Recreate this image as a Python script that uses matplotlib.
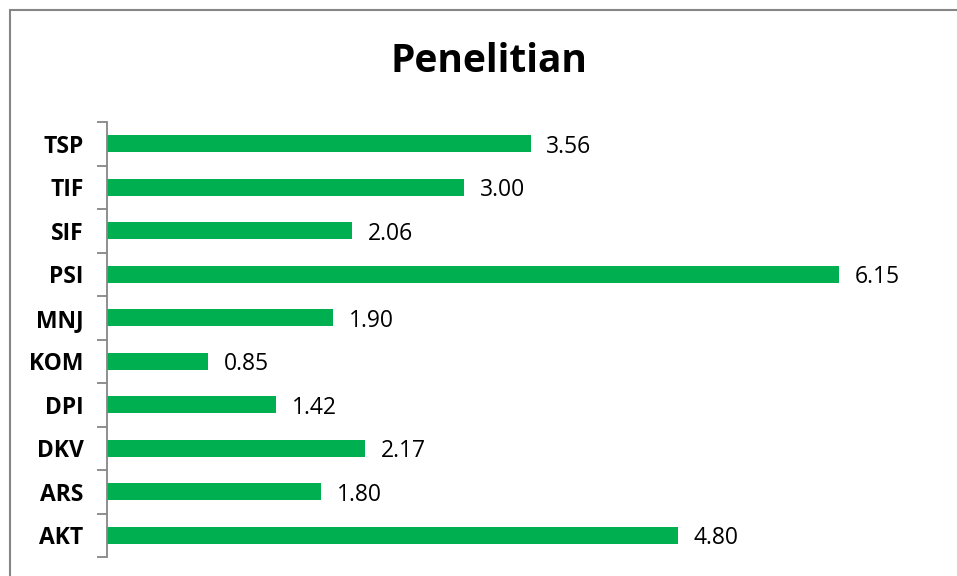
import matplotlib.pyplot as plt
from matplotlib.patches import Rectangle

# data
prodi = ['AKT', 'ARS', 'DKV', 'DPI', 'KOM', 'MNJ', 'PSI', 'SIF', 'TIF', 'TSP']
nilai = [4.80, 1.80, 2.17, 1.42, 0.85, 1.90, 6.15, 2.06, 3.00, 3.56]

plt.rcParams['font.family'] = ['Open Sans', 'DejaVu Sans']

W, H = 957, 576
fig = plt.figure(figsize=(W / 100, H / 100), dpi=100)

# outer chart frame (right/bottom edges fall outside the picture)
fig.patches.append(Rectangle((10 / W, -0.1), 1.2, 1 - 10 / H + 0.1,
                             transform=fig.transFigure, fill=False,
                             edgecolor='#868686', linewidth=1.5))

ax = fig.add_axes([107 / W, 1 - 557 / H, (940 - 107) / W, (557 - 122) / H])

y = range(len(prodi))
ax.barh(y, nilai, height=0.39, color='#00b050')
for yi, v in zip(y, nilai):
    ax.text(v + 0.13, yi - 0.07, f'{v:.2f}', va='center', ha='left', fontsize=16.5)

ax.set_xlim(0, 7)
ax.set_ylim(-0.5, len(prodi) - 0.5)
ax.set_yticks(y)
ax.set_yticklabels(prodi, fontsize=16.5, fontweight='bold')
ax.tick_params(axis='y', length=0, pad=17)
ax.set_yticks([i - 0.5 for i in range(len(prodi) + 1)], minor=True)
ax.tick_params(axis='y', which='minor', length=7, color='#868686', width=1.3)
ax.set_xticks([])
for s in ['top', 'right', 'bottom']:
    ax.spines[s].set_visible(False)
ax.spines['left'].set_color('#868686')
ax.spines['left'].set_linewidth(1.3)

fig.text(489 / W, 1 - 61 / H, 'Penelitian', ha='center', va='center',
         fontsize=28, fontweight='bold')

fig.savefig('out.png', dpi=100)
